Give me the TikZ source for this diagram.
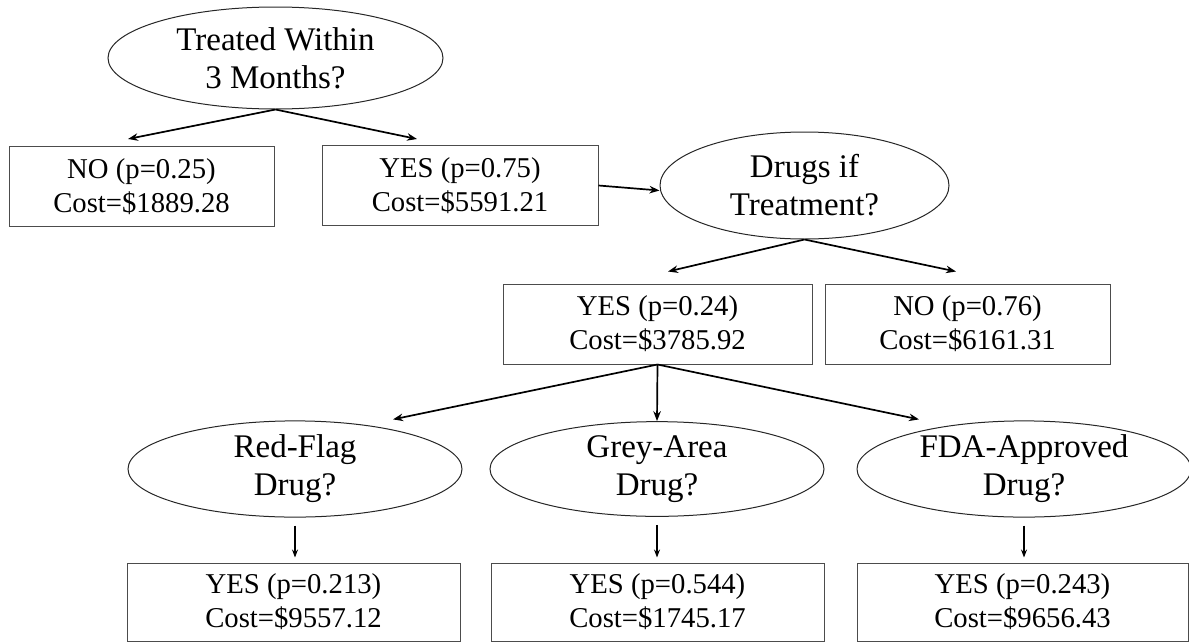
\documentclass[tikz,border=0pt]{standalone}
\usepackage{fontspec}
\setmainfont{Liberation Serif}
\usetikzlibrary{shapes.geometric,arrows.meta}

\begin{document}
\begin{tikzpicture}[x=1pt,y=-1pt,
  question/.style={ellipse, draw=black!85, line width=1pt, inner sep=0pt, align=center, font=\fontsize{33}{38}\selectfont},
  outcome/.style={rectangle, draw=black!70, line width=1pt, inner sep=0pt, minimum height=80pt, align=center, font=\fontsize{28.7}{34}\selectfont},
  arr/.style={-{Stealth[length=10pt,width=7.5pt]}, line width=1.7pt},
  shortarr/.style={-{Stealth[length=8pt,width=6pt]}, line width=1.2pt}]
\useasboundingbox (0,0) rectangle (1189,643);
\node[question, minimum width=335pt, minimum height=102pt] (quest1) at (275.5,58) {Treated Within\\3 Months?};
\node[outcome, minimum width=265pt] (out1) at (141.5,186.5) {NO (p=0.25)\\Cost=\$1889.28};
\node[outcome, minimum width=276pt] (out2) at (460,185.5) {YES (p=0.75)\\Cost=\$5591.21};
\node[question, minimum width=289pt, minimum height=107pt] (quest2) at (804.5,185.5) {Drugs if\\Treatment?};
\node[outcome, minimum width=309pt] (out3) at (657.5,324) {YES (p=0.24)\\Cost=\$3785.92};
\node[outcome, minimum width=285pt] (out4) at (967.5,324) {NO (p=0.76)\\Cost=\$6161.31};
\node[question, minimum width=334pt, minimum height=92pt] (quest3) at (295,469) {Red-Flag\\Drug?};
\node[question, minimum width=334pt, minimum height=92pt] (quest4) at (657,469) {Grey-Area\\Drug?};
\node[question, minimum width=334pt, minimum height=92pt] (quest5) at (1024,469) {FDA-Approved\\Drug?};
\node[outcome, minimum width=333pt, minimum height=78pt] (out5) at (293.5,602) {YES (p=0.213)\\Cost=\$9557.12};
\node[outcome, minimum width=333pt, minimum height=78pt] (out6) at (657.5,602) {YES (p=0.544)\\Cost=\$1745.17};
\node[outcome, minimum width=331pt, minimum height=78pt] (out7) at (1022.5,602) {YES (p=0.243)\\Cost=\$9656.43};
\draw[arr] (quest1.south) -- ([xshift=-13.5pt,yshift=7pt]out1.north);
\draw[arr] (quest1.south) -- ([xshift=-43pt,yshift=6pt]out2.north);
\draw[arr] (out2.east) -- ([yshift=-5pt]quest2.west);
\draw[arr] (quest2.south) -- ([xshift=10.5pt,yshift=12pt]out3.north);
\draw[arr] (quest2.south) -- ([xshift=-11.5pt,yshift=12pt]out4.north);
\draw[arr] (out3.south) -- ([xshift=98pt,yshift=1pt]quest3.north);
\draw[arr] (out3.south) -- (quest4.north);
\draw[arr] (out3.south) -- ([xshift=-105pt,yshift=1pt]quest5.north);
\draw[shortarr, shorten <=8pt, shorten >=5pt] (quest3.south) -- (quest3.south |- out5.north);
\draw[shortarr, shorten <=8pt, shorten >=5pt] (quest4.south) -- (quest4.south |- out6.north);
\draw[shortarr, shorten <=8pt, shorten >=5pt] (quest5.south) -- (quest5.south |- out7.north);
\end{tikzpicture}
\end{document}
